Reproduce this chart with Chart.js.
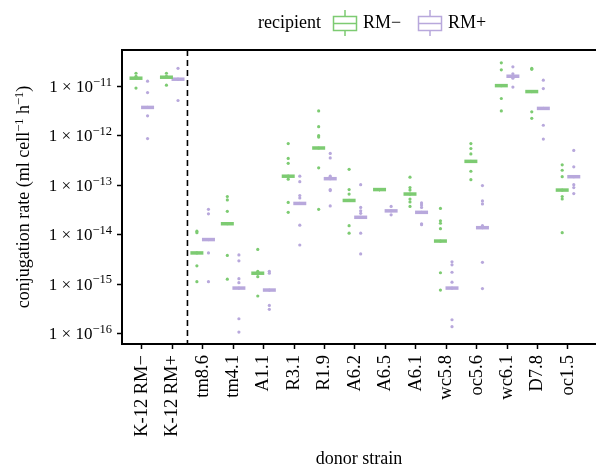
<!DOCTYPE html>
<html><head><meta charset="utf-8">
<script src="https://cdn.jsdelivr.net/npm/chart.js@4"></script>
<style>
html,body{margin:0;padding:0;overflow:hidden;background:#fff;}
#wrap{width:596px;height:468px;position:relative;}
</style></head>
<body><div id="wrap"><canvas id="c" width="596" height="468"></canvas></div>
<script>
const categories = ["K-12 RM\u2212","K-12 RM+","tm8.6","tm4.1","A1.1","R3.1","R1.9","A6.2","A6.5","A6.1","wc5.8","oc5.6","wc6.1","D7.8","oc1.5"];
// log10 values of conjugation rate
const medianRMminus = [-10.84,-10.82,-14.37,-13.78,-14.78,-12.82,-12.25,-13.31,-13.09,-13.18,-14.13,-12.52,-10.99,-11.11,-13.10];
const medianRMplus  = [-11.43,-10.86,-14.10,-15.08,-15.12,-13.37,-12.87,-13.65,-13.52,-13.55,-15.08,-13.86,-10.80,-11.45,-12.83];
const pointsRMminus = [
  [-10.74,-10.80,-10.84,-11.04],
  [-10.74,-10.80,-10.98],
  [-13.93,-13.96,-14.37,-14.63,-14.95],
  [-13.23,-13.30,-13.53,-13.78,-14.42,-14.90],
  [-14.30,-14.74,-14.78,-14.85,-15.24],
  [-12.16,-12.46,-12.56,-12.82,-12.88,-13.35,-13.55],
  [-11.50,-11.82,-12.00,-12.03,-12.25,-12.65,-13.49],
  [-12.68,-13.09,-13.18,-13.31,-13.82,-13.97],
  [-13.09,-13.09,-13.09,-13.09],
  [-12.84,-13.05,-13.10,-13.18,-13.28,-13.34,-13.43],
  [-13.47,-13.72,-13.77,-13.88,-14.13,-14.77,-15.12],
  [-12.16,-12.26,-12.37,-12.52,-12.72,-12.89],
  [-10.53,-10.67,-10.99,-11.25,-11.50],
  [-10.64,-10.66,-11.11,-11.52,-11.65],
  [-12.59,-12.70,-12.83,-13.10,-13.23,-13.28,-13.96]
];
const pointsRMplus = [
  [-10.90,-11.13,-11.43,-11.60,-12.06],
  [-10.64,-10.86,-11.29],
  [-13.49,-13.58,-14.10,-14.37,-14.95],
  [-14.41,-14.53,-14.89,-14.97,-15.08,-15.70,-15.97],
  [-14.74,-14.78,-15.12,-15.43,-15.51],
  [-12.82,-12.93,-13.21,-13.26,-13.37,-13.81,-14.21],
  [-12.36,-12.45,-12.82,-12.87,-13.09,-13.11,-13.42],
  [-12.99,-13.45,-13.52,-13.57,-13.65,-13.97,-14.39],
  [-13.43,-13.52,-13.60],
  [-13.36,-13.40,-13.45,-13.55,-13.78,-13.80],
  [-14.55,-14.61,-14.76,-14.96,-15.08,-15.72,-15.86],
  [-13.01,-13.32,-13.38,-13.82,-13.86,-14.56,-15.09],
  [-10.61,-10.75,-10.80,-10.84,-11.02],
  [-10.88,-11.05,-11.45,-11.79,-12.07],
  [-12.30,-12.63,-12.83,-12.99,-13.05,-13.17]
];
const yTickExps = [-11,-12,-13,-14,-15,-16];

const GREEN = "#7dcb72", PURPLE = "#b8a8dc";
const DODGE = 0.19;
const FONT = "'Liberation Serif','Times New Roman',serif";

function pts(arr, off){const out=[];arr.forEach((vals,i)=>vals.forEach(v=>out.push({x:i+off,y:Math.pow(10,v)})));return out;}
function meds(arr, off){return arr.map((v,i)=>({x:i+off,y:Math.pow(10,v)}));}

function drawRich(ctx, parts, x, y, size, supSize, align){
  const widths = parts.map(p=>{ctx.font=(p[1]?supSize:size)+"px "+FONT;return ctx.measureText(p[0]).width;});
  const total = widths.reduce((a,b)=>a+b,0);
  let cx = align==='right' ? x-total : (align==='center' ? x-total/2 : x);
  parts.forEach((p,i)=>{
    ctx.font=(p[1]?supSize:size)+"px "+FONT;
    ctx.fillText(p[0], cx, p[1] ? y - size*0.36 : y);
    cx += widths[i];
  });
}

const overlay = {
  id:'overlay',
  afterDatasetsDraw(chart){
    const ctx=chart.ctx, xs=chart.scales.x, a=chart.chartArea;
    const px=xs.getPixelForValue(1.5);
    ctx.save();
    ctx.strokeStyle='#000'; ctx.lineWidth=1.6; ctx.setLineDash([6,4]);
    ctx.beginPath(); ctx.moveTo(px,a.top); ctx.lineTo(px,a.bottom); ctx.stroke();
    ctx.restore();
  },
  afterDraw(chart){
    const ctx=chart.ctx, ys=chart.scales.y, a=chart.chartArea;
    ctx.save();
    ctx.fillStyle='#000'; ctx.textBaseline='alphabetic'; ctx.textAlign='left';
    yTickExps.forEach(e=>{
      const py = ys.getPixelForValue(Math.pow(10,e));
      drawRich(ctx, [["1 \u00D7 10",false],["\u2212"+Math.abs(e),true]], 112, py+5.5, 17, 12.5, 'right');
    });
    ctx.save();
    ctx.translate(29, (a.top+a.bottom)/2);
    ctx.rotate(-Math.PI/2);
    drawRich(ctx, [["conjugation rate (ml cell",false],["\u22121",true],[" h",false],["\u22121",true],[")",false]], 0, 0, 18, 12.5, 'center');
    ctx.restore();
    ctx.font="18px "+FONT; ctx.textBaseline='middle';
    ctx.fillText("recipient",258,23);
    function key(x,col,label){
      ctx.strokeStyle=col; ctx.lineWidth=1.5;
      ctx.strokeRect(x+0.5,16.5,23,14);
      ctx.beginPath();
      ctx.moveTo(x,23.5);ctx.lineTo(x+24,23.5);
      ctx.moveTo(x+12,10);ctx.lineTo(x+12,16.5);
      ctx.moveTo(x+12,30.5);ctx.lineTo(x+12,36);
      ctx.stroke();
      ctx.fillStyle='#000';
      ctx.fillText(label,x+30,23);
    }
    key(333,GREEN,"RM\u2212");
    key(418,PURPLE,"RM+");
    ctx.restore();
  }
};

new Chart(document.getElementById('c'),{
  type:'scatter',
  data:{datasets:[
    {label:'RM\u2212 median',data:meds(medianRMminus,-DODGE),pointStyle:'line',radius:6.5,borderWidth:3.5,borderColor:GREEN,backgroundColor:GREEN,order:2},
    {label:'RM+ median',data:meds(medianRMplus,DODGE),pointStyle:'line',radius:6.5,borderWidth:3.5,borderColor:PURPLE,backgroundColor:PURPLE,order:2},
    {label:'RM\u2212',data:pts(pointsRMminus,-DODGE),pointStyle:'circle',radius:1.6,borderWidth:0,backgroundColor:GREEN,order:1},
    {label:'RM+',data:pts(pointsRMplus,DODGE),pointStyle:'circle',radius:1.6,borderWidth:0,backgroundColor:PURPLE,order:1}
  ]},
  options:{
    responsive:false,animation:false,
    layout:{autoPadding:false,padding:{top:50,right:0,left:0,bottom:0}},
    plugins:{legend:{display:false},tooltip:{enabled:false}},
    scales:{
      x:{type:'linear',min:-0.65,max:14.92,
        afterBuildTicks(s){s.ticks=categories.map((c,i)=>({value:i}));},
        afterFit(s){s.height=124; s.paddingLeft=0; s.paddingRight=0;},
        ticks:{autoSkip:false,minRotation:90,maxRotation:90,color:'#000',font:{family:FONT,size:18.5},padding:6,
          callback:(v)=>categories[v]},
        grid:{display:true,drawOnChartArea:false,drawTicks:true,tickLength:5,tickColor:'#000',tickWidth:1.5},
        border:{display:true,color:'#000',width:2},
        title:{display:true,text:'donor strain',color:'#000',font:{family:FONT,size:18,lineHeight:1},padding:{top:0,bottom:0}}
      },
      y:{type:'logarithmic',min:Math.pow(10,-16.21),max:Math.pow(10,-10.27),
        afterBuildTicks(s){s.ticks=yTickExps.map(e=>({value:Math.pow(10,e)}));},
        afterFit(s){s.width=122; s.paddingTop=0; s.paddingBottom=0;},
        ticks:{display:false},
        grid:{display:true,drawOnChartArea:false,drawTicks:true,tickLength:5,tickColor:'#000',tickWidth:1.5},
        border:{display:true,color:'#000',width:2}
      },
      x2:{type:'linear',position:'top',min:0,max:1,display:true,ticks:{display:false},grid:{display:false,drawTicks:false},border:{display:true,color:'#000',width:2},afterFit(s){s.height=0; s.paddingLeft=0; s.paddingRight=0;}}
    }
  },
  plugins:[overlay]
});
</script></body></html>
